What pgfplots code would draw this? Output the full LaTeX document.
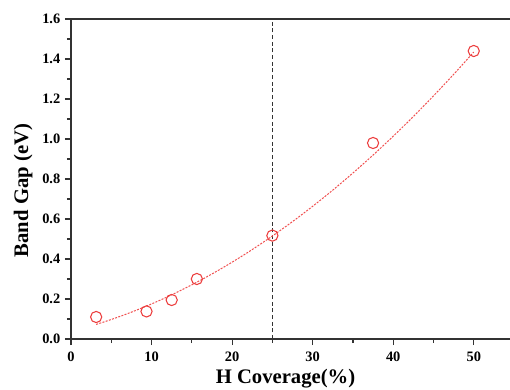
\documentclass[border=0pt]{standalone}
\usepackage{pgfplots}
\pgfplotsset{compat=1.18}
\usepackage{fontspec}
\setmainfont{Liberation Serif}
\usetikzlibrary{calc}
\definecolor{ptred}{RGB}{236,62,62}
\definecolor{fitred}{RGB}{240,80,80}
\begin{document}
\begin{tikzpicture}
\begin{axis}[
  scale only axis,
  width=329.25pt, height=240pt,
  xmin=0, xmax=54.5, ymin=0, ymax=1.6,
  axis x line=box, axis y line=left,
  axis line style={black!80, line width=0.9pt, -},
  xtick={0,10,20,30,40,50},
  minor xtick={5,15,25,35,45},
  ytick={0,0.2,0.4,0.6,0.8,1.0,1.2,1.4,1.6},
  minor ytick={0.1,0.3,0.5,0.7,0.9,1.1,1.3,1.5},
  xtick pos=bottom, ytick pos=left,
  tick align=outside,
  major tick length=4.5pt, minor tick length=3pt,
  every tick/.style={black!80, line width=0.9pt},
  /pgf/number format/assume math mode=true,
  yticklabel style={/pgf/number format/.cd, fixed, fixed zerofill, precision=1},
  xticklabel style={yshift=-2pt},
  ticklabel style={font=\bfseries\fontsize{10.8}{12}\selectfont},
  xlabel={H Coverage(\%)},
  ylabel={Band Gap (eV)},
  xlabel style={font=\bfseries\fontsize{15.5}{17}\selectfont, at={(axis description cs:0.4886,0)}, anchor=north, yshift=-19pt},
  ylabel style={font=\bfseries\fontsize{15.5}{17}\selectfont, at={(axis description cs:-0.109,0.464)}, anchor=center, rotate=0},
  clip=false,
]
\addplot[black!80, line width=0.75pt, dash pattern=on 3pt off 2pt] coordinates {(25,0) (25,1.6)};
\addplot[fitred, line width=0.75pt, dash pattern=on 1.5pt off 1pt, smooth] coordinates {
(3.125,0.0729) (5,0.0975) (7.5,0.1342) (10,0.1753) (12.5,0.2208) (15,0.2709)
(17.5,0.3252) (20,0.3840) (22.5,0.4472) (25,0.5150) (27.5,0.5870) (30,0.6635)
(32.5,0.7444) (35,0.8299) (37.5,0.9196) (40,1.0138) (42.5,1.1124) (45,1.2156)
(47.5,1.3230) (50,1.4349)};
\addplot[only marks, mark=o, mark size=4.2pt, ptred, line width=0.8pt] coordinates {
(3.125,0.11) (9.375,0.138) (12.5,0.195) (15.625,0.30) (25,0.517) (37.5,0.98) (50,1.44)};
\end{axis}
\pgfresetboundingbox
\path[use as bounding box] ($(current axis.south west)+(-53.25pt,-37.5pt)$) rectangle ($(current axis.north east)+(0pt,14.25pt)$);
\end{tikzpicture}
\end{document}
